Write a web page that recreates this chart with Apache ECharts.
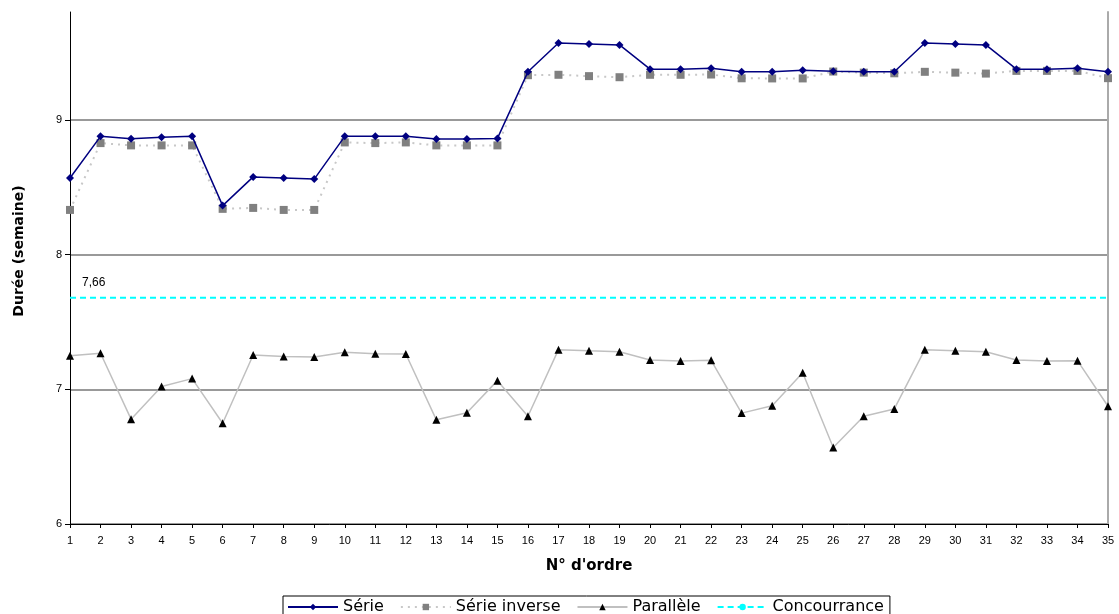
<!DOCTYPE html>
<html><head><meta charset="utf-8">
<script src="https://cdn.jsdelivr.net/npm/echarts@6/dist/echarts.min.js"></script>
<style>html,body{margin:0;padding:0;background:#fff}#c{width:1119px;height:614px}</style>
</head><body><div id="c"></div>
<script>
const categories = Array.from({length: 35}, (_, i) => String(i + 1));
const serie = [8.568,8.877,8.86,8.87,8.877,8.363,8.576,8.568,8.56,8.877,8.877,8.877,8.857,8.857,8.862,9.356,9.57,9.563,9.556,9.376,9.376,9.383,9.356,9.356,9.368,9.36,9.356,9.356,9.57,9.563,9.556,9.376,9.376,9.383,9.356];
const serieInverse = [8.331,8.827,8.81,8.81,8.81,8.339,8.346,8.331,8.331,8.832,8.827,8.832,8.81,8.81,8.81,9.331,9.334,9.324,9.316,9.334,9.334,9.336,9.308,9.307,9.307,9.358,9.35,9.345,9.356,9.35,9.343,9.363,9.363,9.363,9.309];
const parallele = [7.249,7.267,6.778,7.02,7.079,6.748,7.254,7.244,7.24,7.274,7.264,7.262,6.773,6.825,7.064,6.8,7.294,7.286,7.279,7.217,7.21,7.215,6.823,6.877,7.123,6.568,6.8,6.854,7.294,7.286,7.279,7.217,7.21,7.212,6.874];
const concourranceValue = 7.68;
const concourranceLabel = '7,66';
const concourrance = categories.map(() => concourranceValue);
const yTicks = [6, 7, 8, 9];
const seriesNames = ['Série', 'Série inverse', 'Parallèle', 'Concourrance'];

const chart = echarts.init(document.getElementById('c'));
const font = 'Liberation Sans, Arial, sans-serif';
const wide = 'DejaVu Sans, sans-serif';
chart.setOption({
  animation: false,
  backgroundColor: '#fff',
  textStyle: {fontFamily: font},
  grid: {left: 70, right: 11, top: 12, bottom: 90, containLabel: false, outerBoundsMode: 'none'},
  legend: {
    data: seriesNames,
    left: 283, top: 596,
    padding: [3, 6, 8, 4],
    borderColor: '#000', borderWidth: 1,
    itemWidth: 50, itemHeight: 8, itemGap: 16,
    textStyle: {fontSize: 16, color: '#000', fontFamily: wide}
  },
  xAxis: {
    type: 'category', data: categories, boundaryGap: false,
    name: "N° d'ordre", nameLocation: 'middle', nameGap: 35,
    nameTextStyle: {fontSize: 15, fontWeight: 'bold', color: '#000', fontFamily: wide},
    axisLine: {lineStyle: {color: '#000', width: 1}},
    axisTick: {inside: false, length: 4, alignWithLabel: true, lineStyle: {color: '#000'}},
    axisLabel: {color: '#000', fontSize: 11, margin: 11, interval: 0},
    splitLine: {show: false}
  },
  yAxis: [{
    type: 'value', min: 6, max: 9.8, interval: 1,
    name: 'Durée (semaine)', nameLocation: 'middle', nameGap: 44, nameRotate: 90,
    nameTextStyle: {fontSize: 14, fontWeight: 'bold', color: '#000', fontFamily: wide, padding: [0, 0, 0, 34]},
    axisLine: {show: true, lineStyle: {color: '#000', width: 1}},
    axisTick: {show: true, length: 5, lineStyle: {color: '#000'}, customValues: yTicks},
    axisLabel: {color: '#000', fontSize: 11, margin: 8, customValues: yTicks},
    splitLine: {show: true, lineStyle: {color: '#777', width: 1.5}}
  }, {
    type: 'value', min: 6, max: 9.8, position: 'right',
    axisLine: {show: true, lineStyle: {color: '#aaa', width: 2}},
    axisTick: {show: false}, axisLabel: {show: false}, splitLine: {show: false}
  }],
  series: [
    {
      name: seriesNames[1], type: 'line', data: serieInverse, z: 2,
      symbol: 'rect', symbolSize: 8,
      itemStyle: {color: '#808080'},
      lineStyle: {color: '#c8c8c8', width: 2, type: [2, 5]}
    },
    {
      name: seriesNames[0], type: 'line', data: serie, z: 3,
      symbol: 'diamond', symbolSize: 8,
      itemStyle: {color: '#000080'},
      lineStyle: {color: '#000080', width: 1.5}
    },
    {
      name: seriesNames[2], type: 'line', data: parallele, z: 2,
      symbol: 'triangle', symbolSize: 8,
      itemStyle: {color: '#000'},
      lineStyle: {color: '#c0c0c0', width: 1.5}
    },
    {
      name: seriesNames[3], type: 'line', data: concourrance, z: 1,
      symbol: 'circle', symbolSize: 0.1, showSymbol: true,
      itemStyle: {color: '#00ffff'},
      lineStyle: {color: '#00ffff', width: 2, type: [6, 4]},
      label: {
        show: true, position: 'top', align: 'left', offset: [12, -4],
        fontSize: 12, color: '#000',
        formatter: p => p.dataIndex === 0 ? concourranceLabel : ''
      }
    }
  ]
});
</script></body></html>
